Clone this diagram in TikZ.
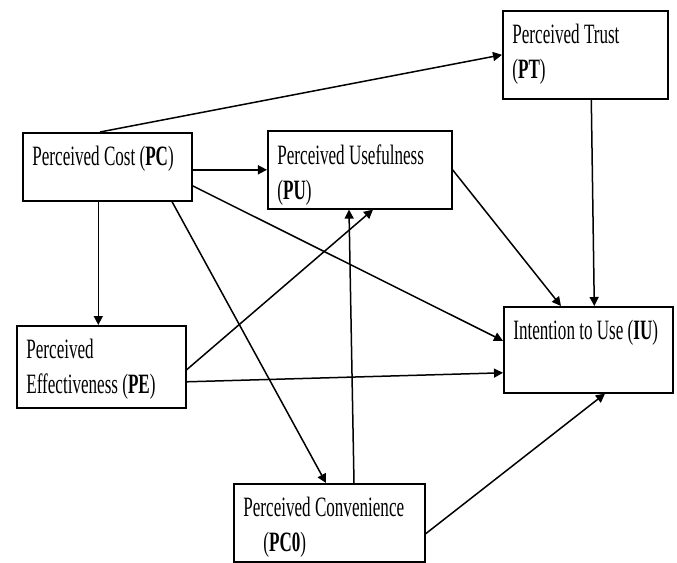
\documentclass[tikz,border=0pt]{standalone}
\usepackage{fontspec}
\setmainfont{Liberation Serif}[FakeStretch=0.61]
\usetikzlibrary{arrows.meta}

\begin{document}
\begin{tikzpicture}[
      x=0.5pt, y=-0.5pt,
      font=\fontsize{14pt}{17.5pt}\selectfont,
      node_box/.style={draw, line width=0.8pt, anchor=north west, inner sep=0pt},
      box_text/.style={anchor=north west, align=left, inner xsep=5pt, inner ysep=7pt},
      edge_path/.style={-{Triangle[length=4.5pt, width=4.5pt]}, line width=0.75pt}
    ]
      \useasboundingbox (0,0) rectangle (677,563);

      \node[node_box, minimum width=84.5pt, minimum height=34pt,
            label={[box_text]north west:Perceived Cost (\textbf{PC})}] (PC) at (22,132) {};
      \node[node_box, minimum width=92pt, minimum height=39pt,
            label={[box_text]north west:Perceived Usefulness\\(\textbf{PU})}] (PU) at (267,130) {};
      \node[node_box, minimum width=82.5pt, minimum height=44pt,
            label={[box_text]north west:Perceived Trust\\(\textbf{PT})}] (PT) at (502,10) {};
      \node[node_box, minimum width=84.5pt, minimum height=43pt,
            label={[box_text]north west:Intention to Use (\textbf{IU})}] (IU) at (503,306) {};
      \node[node_box, minimum width=84.5pt, minimum height=41pt,
            label={[box_text]north west:Perceived\\Effectiveness (\textbf{PE})}] (PE) at (16,325) {};
      \node[node_box, minimum width=95.5pt, minimum height=39pt,
            label={[box_text]north west:Perceived Convenience\\\hspace*{10pt}(\textbf{PC0})}] (PC0) at (233,483) {};

      \draw[edge_path] ([xshift=39pt]PC.north west) -- (PT.west);
      \draw[edge_path] (PC.east |- PU.west) -- (PU.west);
      \draw[edge_path] ([xshift=-1.5pt]PC.south -| PE.north) -- ([xshift=-1.5pt]PE.north);
      \draw[edge_path] ([xshift=75pt]PC.south west) -- ([xshift=46.5pt]PC0.north west);
      \draw[edge_path] ([yshift=-9.5pt]PC.east) -- ([yshift=4.5pt]IU.west);
      \draw[edge_path] (PU.east) -- ([xshift=29pt]IU.north west);
      \draw[edge_path] ([xshift=3pt]PT.south) -- ([xshift=3pt]IU.north);
      \draw[edge_path] ([yshift=-1.5pt]PE.east) -- ([xshift=53pt]PU.south west);
      \draw[edge_path] ([yshift=-7.5pt]PE.east) -- ([yshift=-11.5pt]IU.west);
      \draw[edge_path] ([xshift=60.5pt]PC0.north west) -- ([xshift=41pt]PU.south west);
      \draw[edge_path] ([yshift=-5.5pt]PC0.east) -- ([xshift=51pt]IU.south west);
    \end{tikzpicture}
\end{document}
